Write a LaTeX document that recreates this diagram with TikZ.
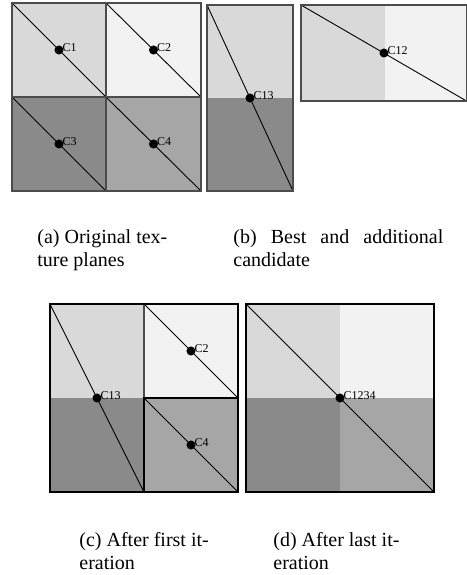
\documentclass[tikz,border=0pt]{standalone}
\usepackage{fontspec}
\setmainfont{Liberation Serif}
\definecolor{planeA}{gray}{0.85}
\definecolor{planeB}{gray}{0.95}
\definecolor{planeC}{gray}{0.54}
\definecolor{planeD}{gray}{0.65}
\definecolor{edgegray}{gray}{0.30}
\usepackage{tikz}
\tikzset{
  cellrim/.style={draw=edgegray,line width=0.6pt},
  outerrim/.style={draw=black,line width=0.6pt},
  diagline/.style={draw=black,line width=0.45pt},
  dotpt/.style={circle,fill=black,inner sep=1.6pt},
  centlabel/.style={right=0.6pt,yshift=1.4pt,inner sep=1pt,font=\fontsize{6}{7}\selectfont},
  captext/.style={anchor=base west,align=left,inner sep=0pt,
                  font=\fontsize{10}{11.3}\selectfont},
}

\begin{document}
\begin{tikzpicture}[x=0.5pt,y=-0.5pt]
  \useasboundingbox (0,0) rectangle (467,575);
  % (a) four texture planes
  \fill[planeA] (12,3) rectangle (106,97);
  \fill[planeB] (106,3) rectangle (201,97);
  \fill[planeC] (12,97) rectangle (106,191);
  \fill[planeD] (106,97) rectangle (201,191);
  \draw[diagline] (12,3) -- (106,97);
  \draw[diagline] (106,3) -- (201,97);
  \draw[diagline] (12,97) -- (106,191);
  \draw[diagline] (106,97) -- (201,191);
  \draw[cellrim] (12,3) rectangle (106,97);
  \draw[cellrim] (106,3) rectangle (201,97);
  \draw[cellrim] (12,97) rectangle (106,191);
  \draw[cellrim] (106,97) rectangle (201,191);
  \node[dotpt] (c1) at (59,50) {};
  \node[centlabel] at (c1) {C1};
  \node[dotpt] (c2) at (153.5,50) {};
  \node[centlabel] at (c2) {C2};
  \node[dotpt] (c3) at (59,144) {};
  \node[centlabel] at (c3) {C3};
  \node[dotpt] (c4) at (153.5,144) {};
  \node[centlabel] at (c4) {C4};

  % (b) best and additional candidate
  \fill[planeA] (207,5) rectangle (293,98);
  \fill[planeC] (207,98) rectangle (293,191);
  \draw[diagline] (207,5) -- (293,191);
  \draw[cellrim] (207,5) rectangle (293,191);
  \node[dotpt] (c13b) at (250,98) {};
  \node[centlabel] at (c13b) {C13};
  \fill[planeA] (301,5) rectangle (385,101);
  \fill[planeB] (385,5) rectangle (466.5,101);
  \draw[diagline] (301,5) -- (466.5,101);
  \draw[cellrim] (301,5) rectangle (466.5,101);
  \node[dotpt] (c12) at (384,53) {};
  \node[centlabel] at (c12) {C12};

  % (c) after first iteration
  \fill[planeA] (50,304) rectangle (144,398);
  \fill[planeC] (50,398) rectangle (144,492);
  \fill[planeB] (144,304) rectangle (238,398);
  \fill[planeD] (144,398) rectangle (238,492);
  \draw[diagline] (50,304) -- (144,492);
  \draw[diagline] (144,304) -- (238,398);
  \draw[diagline] (144,398) -- (238,492);
  \draw[cellrim] (144,304) rectangle (238,398);
  \draw[outerrim] (144,398) rectangle (238,492);
  \draw[outerrim] (50,304) rectangle (238,492);
  \node[dotpt] (c13c) at (97,398) {};
  \node[centlabel] at (c13c) {C13};
  \node[dotpt] (c2c) at (191,351) {};
  \node[centlabel] at (c2c) {C2};
  \node[dotpt] (c4c) at (191,445) {};
  \node[centlabel] at (c4c) {C4};

  % (d) after last iteration
  \fill[planeA] (246,304) rectangle (340,398);
  \fill[planeB] (340,304) rectangle (434,398);
  \fill[planeC] (246,398) rectangle (340,492);
  \fill[planeD] (340,398) rectangle (434,492);
  \draw[diagline] (246,304) -- (434,492);
  \draw[outerrim] (246,304) rectangle (434,492);
  \node[dotpt] (c1234) at (340,398) {};
  \node[centlabel] at (c1234) {C1234};

  % captions (base anchor sits on the last line)
  \node[captext] (capA) at (37,266) {(a) Original tex-\\ture planes};
  \node[captext] (capB) at (233,266)
    {\makebox[105pt][s]{(b) Best and additional}\\candidate};
  \node[captext] (capC) at (79,569) {(c) After first it-\\eration};
  \node[captext] (capD) at (273,569) {(d) After last it-\\eration};
\end{tikzpicture}
\end{document}
